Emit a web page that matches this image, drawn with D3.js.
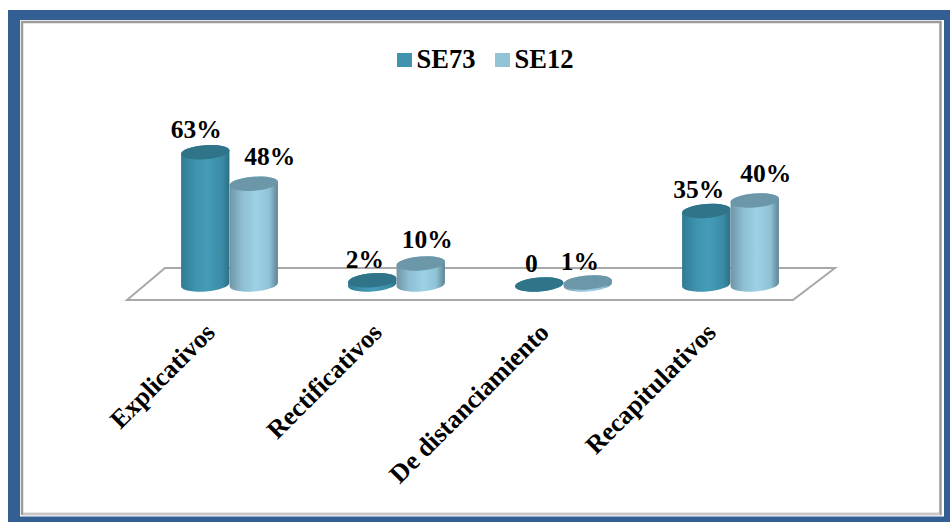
<!DOCTYPE html>
<html>
<head>
<meta charset="utf-8">
<script src="https://cdn.jsdelivr.net/npm/d3@7/dist/d3.min.js"></script>
<style>
html,body{margin:0;padding:0;background:#fff;}
svg{display:block;}
text{font-family:"Liberation Serif","Times New Roman",serif;font-weight:bold;fill:#000;}
</style>
</head>
<body>
<svg id="chart" width="950" height="522"></svg>
<script>
// Share of connector types per corpus, in percent
const categories = ["Explicativos", "Rectificativos", "De distanciamiento", "Recapitulativos"];
const seriesNames = ["SE73", "SE12"];
const se73 = [63, 2, 0, 35];
const se12 = [48, 10, 1, 40];
const seriesValues = [se73, se12];

const svg = d3.select("#chart");
const defs = svg.append("defs");

// Page frame
svg.append("rect").attr("x", 8).attr("y", 10).attr("width", 942).attr("height", 512).attr("fill", "#345f94");
svg.append("rect").attr("x", 20).attr("y", 20).attr("width", 924).attr("height", 496.5).attr("fill", "#fff");
svg.append("path")
  .attr("d", "M22,515V22H940.5V514H22")
  .attr("fill", "none").attr("stroke", "#9b9b9b").attr("stroke-width", 2.5);
svg.append("rect").attr("x", 23).attr("y", 513).attr("width", 917).attr("height", 2).attr("fill", "#c9c9c9");

// Scales: categories across the floor, percentages upward from the floor centre
const x = d3.scaleBand().domain(categories).range([146, 814]).paddingInner(0).paddingOuter(0);
const xSeries = d3.scaleBand().domain(seriesNames).range([x.bandwidth() / 2 - 48.5, x.bandwidth() / 2 + 48.5]);
const y = d3.scaleLinear().domain([0, 100]).range([284.5, 74.5]);

// Floor of the 3D plot
const floorPts = [[127, 300], [793, 300], [835, 268], [165, 268]];
svg.append("polygon")
  .attr("points", floorPts.map(p => p.join(",")).join(" "))
  .attr("fill", "#fff").attr("stroke", "#a8a8a8").attr("stroke-width", 2);

// Cylinder shading per series
const sideStops = [
  [["0", "#2f7c94"], ["0.3", "#3f93ae"], ["0.55", "#459cb8"], ["0.85", "#3a8ba5"], ["1", "#2b7086"]],
  [["0", "#6f95a6"], ["0.25", "#8dbdd0"], ["0.55", "#9dd2e6"], ["0.82", "#8fc2d6"], ["1", "#5e8494"]]
];
const topColors = ["#2f7489", "#6b97a9"];
const legendColors = ["#4193ae", "#93c3d6"];
sideStops.forEach((stops, i) => {
  const g = defs.append("linearGradient").attr("id", "side" + i)
    .attr("x1", 0).attr("x2", 1).attr("y1", 0).attr("y2", 0);
  stops.forEach(s => g.append("stop").attr("offset", s[0]).attr("stop-color", s[1]));
});

// Ellipse caps lean slightly upward to the right
const tiltDeg = -4.5;
const ry = 7;
function cylinderSide(cx, rx, yTop, yBase) {
  const t = tiltDeg * Math.PI / 180;
  const dx = rx * Math.cos(t), dy = rx * Math.sin(t);
  return `M${cx - dx},${yTop - dy}L${cx - dx},${yBase - dy}` +
    `A${rx},${ry} ${tiltDeg} 0 0 ${cx + dx},${yBase + dy}` +
    `L${cx + dx},${yTop + dy}` +
    `A${rx},${ry} ${tiltDeg} 0 0 ${cx - dx},${yTop - dy}Z`;
}

const formatValue = v => v === 0 ? "0" : v + "%";

categories.forEach((cat, c) => {
  seriesNames.forEach((name, s) => {
    const v = seriesValues[s][c];
    const rx = xSeries.bandwidth() / 2;
    const cx = x(cat) + xSeries(name) + rx;
    const yTop = y(v), yBase = y(0);
    const g = svg.append("g").attr("class", "bar");
    g.append("path").attr("d", cylinderSide(cx, rx, yTop, yBase)).attr("fill", `url(#side${s})`);
    g.append("ellipse")
      .attr("rx", rx).attr("ry", ry)
      .attr("transform", `translate(${cx},${yTop}) rotate(${tiltDeg})`)
      .attr("fill", topColors[s]);
  });
});

// Value labels were placed by hand around the caps, so each has its own nudge
const labelNudge = [
  [[-9, -14], [-7.5, -12], [-8, -12.5], [-7.5, -13]],
  [[16, -18.5], [6.5, -15.5], [-8, -12.5], [11, -18.5]]
];
categories.forEach((cat, c) => {
  seriesNames.forEach((name, s) => {
    const v = seriesValues[s][c];
    const cx = x(cat) + xSeries(name) + xSeries.bandwidth() / 2;
    const [nx, ny] = labelNudge[s][c];
    svg.append("text")
      .attr("x", cx + nx)
      .attr("y", y(v) + ny)
      .attr("text-anchor", "middle")
      .attr("font-size", 25.5)
      .text(formatValue(v));
  });
});

// Category axis with slanted labels
const axisG = svg.append("g").attr("transform", "translate(0,304)")
  .call(d3.axisBottom(x).tickSize(0).tickPadding(0));
axisG.select(".domain").remove();
axisG.selectAll("text")
  .attr("font-size", 26)
  .attr("font-family", null)
  .attr("text-anchor", "end")
  .attr("dy", "0")
  .attr("transform", "translate(-13,30) rotate(-45)");

// Legend
const legendX = [397, 495];
seriesNames.forEach((name, i) => {
  svg.append("rect").attr("x", legendX[i]).attr("y", 53).attr("width", 15).attr("height", 14)
    .attr("fill", legendColors[i]);
  svg.append("text").attr("x", legendX[i] + 19.5).attr("y", 68)
    .attr("font-size", 26.5).text(name);
});
</script>
</body>
</html>
